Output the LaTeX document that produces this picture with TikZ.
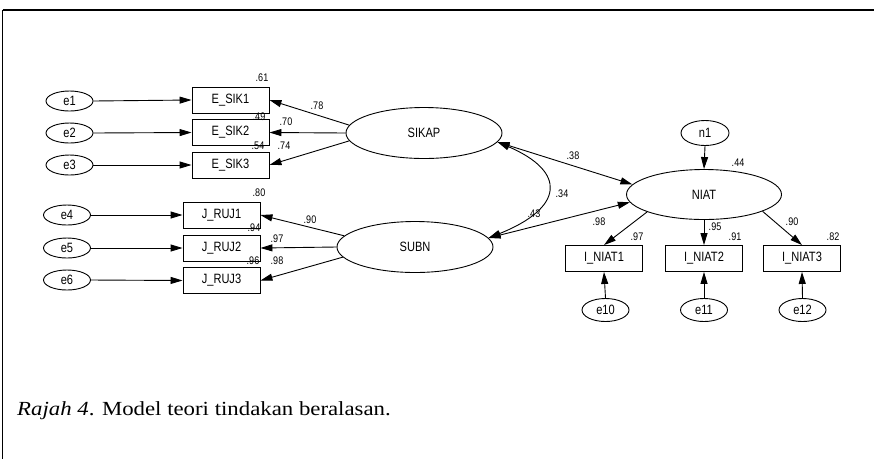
\documentclass[tikz,border=0pt]{standalone}
\usepackage{fontspec}
\setmainfont{Liberation Serif}
\newfontfamily\capfont[FakeStretch=1.14]{Liberation Serif}
\newfontfamily\amos[FakeStretch=0.82]{Liberation Sans}
\usetikzlibrary{shapes.geometric,arrows.meta}
\tikzset{
  obs/.style={draw,line width=0.9pt,minimum width=77pt,minimum height=26pt,inner sep=0pt,font=\amos\fontsize{13.5}{13.5}\selectfont},
  lat/.style={draw,line width=0.9pt,ellipse,minimum width=156pt,minimum height=51pt,inner sep=0pt,font=\amos\fontsize{13.5}{13.5}\selectfont},
  err/.style={draw,line width=0.9pt,ellipse,minimum width=47pt,minimum height=20pt,inner sep=0pt,font=\amos\fontsize{13.5}{13.5}\selectfont},
  errb/.style={err,minimum height=23pt},
  num/.style={inner sep=0pt,font=\amos\fontsize{11}{11}\selectfont},
  arr/.style={line width=0.9pt,-{Triangle[length=12pt,width=7pt]}},
  darr/.style={line width=0.9pt,{Triangle[length=12pt,width=7pt]}-{Triangle[length=12pt,width=7pt]}},
  frame/.style={line width=1.6pt,black}
}
\begin{document}
\begin{tikzpicture}[x=1pt,y=-1pt]
\useasboundingbox (0,0) rectangle (874,459);
\fill[white] (0,0) rectangle (874,459);
\draw[frame] (2.5,10) -- (874,10);
\draw[frame] (2.5,10) -- (2.5,459);

% error terms left
\node[err] (e1) at (69.5,101) {e1};
\node[err] (e2) at (69.5,133) {e2};
\node[err] (e3) at (69.5,165) {e3};
\node[err] (e4) at (67,215) {e4};
\node[err] (e5) at (67,248) {e5};
\node[err] (e6) at (67,280) {e6};

% observed
\node[obs] (s1) at (230.5,100) {E\_SIK1};
\node[obs] (s2) at (230.5,132.5) {E\_SIK2};
\node[obs] (s3) at (230.5,165) {E\_SIK3};
\node[obs] (r1) at (221.5,215) {J\_RUJ1};
\node[obs] (r2) at (221.5,248) {J\_RUJ2};
\node[obs] (r3) at (221.5,280.5) {J\_RUJ3};
\node[obs] (i1) at (604,258.5) {I\_NIAT1};
\node[obs] (i2) at (704,258.5) {I\_NIAT2};
\node[obs] (i3) at (802,258.5) {I\_NIAT3};

% latent
\node[lat] (sikap) at (424,133) {SIKAP};
\node[lat] (subn) at (415,247) {SUBN};
\node[lat,minimum width=155pt,minimum height=50pt] (niat) at (704,194.5) {NIAT};

% residuals
\node[errb,minimum width=48pt,minimum height=25pt] (n1) at (705,133) {n1};
\node[errb] (e10) at (605.5,310) {e10};
\node[errb] (e11) at (704,310) {e11};
\node[errb] (e12) at (802.5,310) {e12};

% error arrows
\draw[arr] (e1.east) -- (s1.west);
\draw[arr] (e2.east) -- (s2.west);
\draw[arr] (e3.east) -- (s3.west);
\draw[arr] (e4.east) -- (r1.west);
\draw[arr] (e5.east) -- (r2.west);
\draw[arr] (e6.east) -- (r3.west);

% loadings
\draw[arr] (sikap.174) -- (s1.east);
\draw[arr] (sikap.west) -- (s2.east);
\draw[arr] (sikap.186) -- (s3.east);
\draw[arr] (subn.171) -- (r1.east);
\draw[arr] (subn.west) -- (r2.east);
\draw[arr] (subn.188) -- (r3.east);
\draw[arr] (niat.197) -- (i1.north);
\draw[arr] (niat.south) -- (i2.north);
\draw[arr] (niat.344) -- (i3.north);
\draw[arr] (n1.south) -- (niat.north);
\draw[arr] (e10.north) -- (i1.south);
\draw[arr] (e11.north) -- (i2.south);
\draw[arr] (e12.north) -- (i3.south);

% structural
\draw[darr] (sikap.353) -- (niat.172);
\draw[darr] (subn.7) -- (niat.186);
\draw[darr] (sikap.353) .. controls +(70,30) and +(75,-30) .. (subn.7);

% numbers
\node[num] at (262,78) {.61};
\node[num] at (317,106) {.78};
\node[num] at (259,117) {.49};
\node[num] at (286,122) {.70};
\node[num] at (258,146) {.54};
\node[num] at (284,146) {.74};
\node[num] at (259,193) {.80};
\node[num] at (310,220) {.90};
\node[num] at (254,228) {.94};
\node[num] at (277,239) {.97};
\node[num] at (253,261) {.96};
\node[num] at (277,261) {.98};
\node[num] at (573,156) {.38};
\node[num] at (562,194) {.34};
\node[num] at (534,214) {.43};
\node[num] at (599,222) {.98};
\node[num] at (738,163) {.44};
\node[num] at (637,237) {.97};
\node[num] at (715,227) {.95};
\node[num] at (735,237) {.91};
\node[num] at (792,222) {.90};
\node[num] at (833,237) {.82};

% caption
\node[anchor=base west,inner sep=0pt,font=\capfont\fontsize{20}{20}\selectfont] (cap) at (17,415) {\textit{Rajah 4}. Model teori tindakan beralasan.};
\end{tikzpicture}
\end{document}
